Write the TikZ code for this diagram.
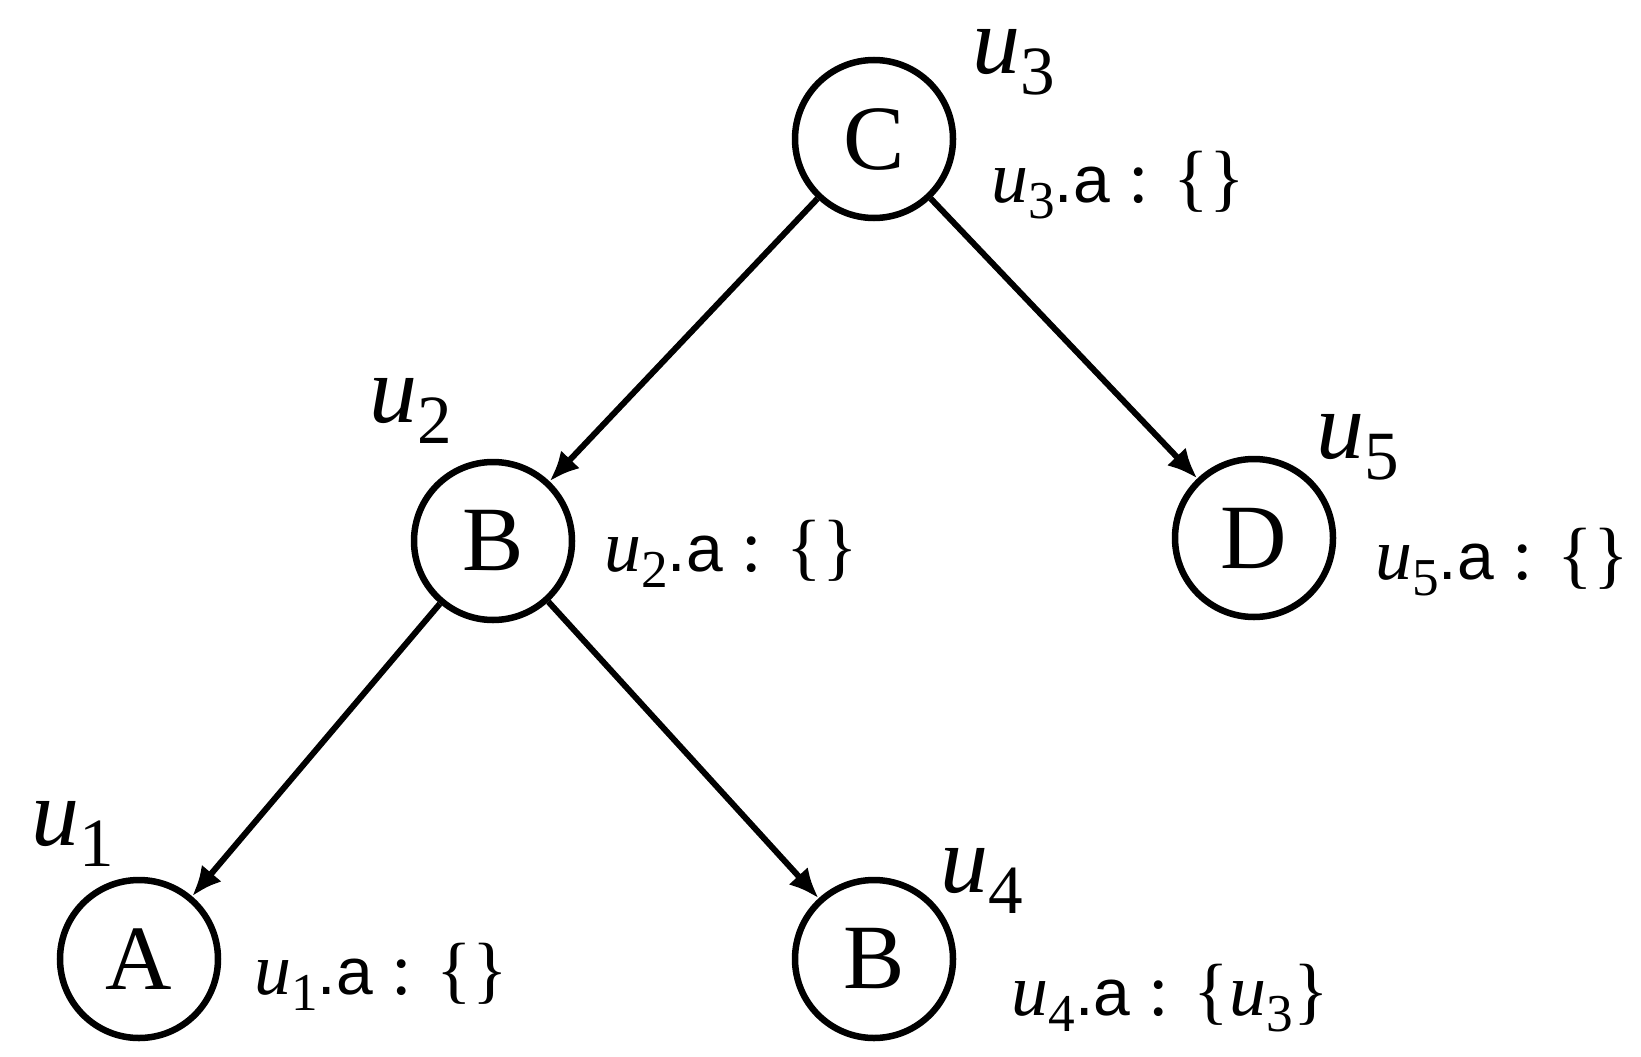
\documentclass[tikz,border=0pt]{standalone}
\usepackage{fontspec}
\setmainfont{Liberation Serif}
\newfontfamily\sansf{Liberation Sans}
\usetikzlibrary{arrows.meta}
\newcommand{\uvar}[1]{{\itshape u}\raisebox{-0.22em}{\scalebox{0.72}{#1}}}
\begin{document}
\begin{tikzpicture}[x=1pt,y=-1pt,
  vtx/.style={circle,draw,line width=6.5pt,minimum size=158pt,inner sep=0pt,font=\fontsize{92}{92}\selectfont},
  lbl/.style={font=\fontsize{96}{96}\selectfont},
  ann/.style={font=\fontsize{74}{74}\selectfont},
  edge/.style={line width=6pt,-{Latex[length=30pt,width=26pt]}}]
\useasboundingbox (0,0) rectangle (1641,1057);
\node[vtx] (C) at (874,139) {C};
\node[vtx] (B) at (493,541) {B};
\node[vtx] (D) at (1254,538) {D};
\node[vtx] (A) at (139,959) {A};
\node[vtx] (B4) at (874,959) {B};
\draw[edge] (C) -- (B);
\draw[edge] (C) -- (D);
\draw[edge] (B) -- (A);
\draw[edge] (B) -- (B4);
\node[lbl] (l3) at (1014,62) {\uvar{3}};
\node[lbl] (l2) at (411,411) {\uvar{2}};
\node[lbl] (l5) at (1358,447) {\uvar{5}};
\node[lbl] (l1) at (73,834) {\uvar{1}};
\node[lbl] (l4) at (982,881) {\uvar{4}};
\node[ann] (a3) at (1118,185) {\uvar{3}{\sansf\fontsize{66}{66}\selectfont .a} : \{\}};
\node[ann] (a2) at (731,554) {\uvar{2}{\sansf\fontsize{66}{66}\selectfont .a} : \{\}};
\node[ann] (a5) at (1502,562) {\uvar{5}{\sansf\fontsize{66}{66}\selectfont .a} : \{\}};
\node[ann] (a1) at (381,977) {\uvar{1}{\sansf\fontsize{66}{66}\selectfont .a} : \{\}};
\node[ann] (a4) at (1170,998) {\uvar{4}{\sansf\fontsize{66}{66}\selectfont .a} : \{\uvar{3}\}};
\end{tikzpicture}
\end{document}
